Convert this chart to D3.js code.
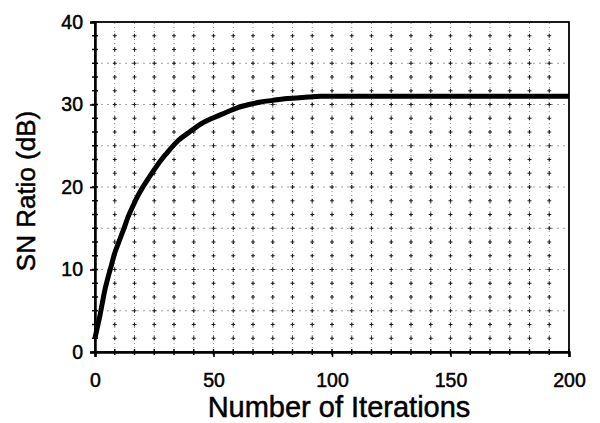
<!DOCTYPE html>
<html>
<head>
<meta charset="utf-8">
<script src="https://cdn.jsdelivr.net/npm/d3@7"></script>
<style>
  body { margin: 0; background: #fff; }
  text { font-family: "Liberation Sans", Arial, sans-serif; fill: #000; }
</style>
</head>
<body>
<script>
// iterations and SN ratio
const iterations = [0, 1, 2, 3, 4, 5, 6, 7, 8, 10, 12, 14, 16, 18, 20, 22, 25, 28, 30, 35, 40, 45, 50, 55, 60, 65, 70, 75, 80, 85, 90, 95, 100, 120, 140, 160, 180, 200];
const snRatio = [1.7, 3.0, 4.3, 5.8, 7.3, 8.5, 9.6, 10.6, 11.7, 13.3, 14.8, 16.4, 17.7, 18.9, 19.9, 20.8, 22.1, 23.3, 24.0, 25.6, 26.7, 27.7, 28.4, 29.0, 29.6, 30.0, 30.3, 30.5, 30.7, 30.8, 30.9, 31.0, 31.0, 31.0, 31.0, 31.0, 31.0, 31.0];
const xTicks = [0, 50, 100, 150, 200];
const yTicks = [0, 10, 20, 30, 40];

const width = 600, height = 423;
const margin = {left: 95, right: 31, top: 22, bottom: 71};

const svg = d3.select('body').append('svg')
  .attr('width', width)
  .attr('height', height);

const x = d3.scaleLinear().domain([0, 200]).range([margin.left, width - margin.right]);
const y = d3.scaleLinear().domain([0, 40]).range([height - margin.bottom, margin.top]);

// minor grid positions, 24 steps each way
const xMinor = d3.range(0, 200.01, 200 / 24);
const yMinor = d3.range(0, 40.01, 40 / 24);

const grid = svg.append('g');
grid.selectAll('line.v').data(xMinor.slice(1, -1)).join('line')
  .attr('x1', d => x(d)).attr('x2', d => x(d))
  .attr('y1', y(0)).attr('y2', y(40))
  .attr('stroke', '#000').attr('stroke-width', 0.8)
  .attr('stroke-dasharray', '1,3').attr('opacity', 0.55);
grid.selectAll('line.h').data([5, 10, 15, 20, 25, 30, 35]).join('line')
  .attr('x1', x(0)).attr('x2', x(200))
  .attr('y1', d => y(d)).attr('y2', d => y(d))
  .attr('stroke', '#000').attr('stroke-width', 0.8)
  .attr('stroke-dasharray', '2,4').attr('opacity', 0.45);

// little "+" marks at grid crossings
const cross = [];
xMinor.slice(1, -1).forEach(a => yMinor.slice(1, -1).forEach(b => cross.push([a, b])));
grid.selectAll('path.c').data(cross).join('path')
  .attr('d', d => `M${x(d[0]) - 2},${y(d[1])}h4M${x(d[0])},${y(d[1]) - 2}v4`)
  .attr('stroke', '#000').attr('stroke-width', 1.2).attr('opacity', 0.85);

// frame
svg.append('rect')
  .attr('x', x(0)).attr('y', y(40))
  .attr('width', x(200) - x(0)).attr('height', y(0) - y(40))
  .attr('fill', 'none').attr('stroke', '#000').attr('stroke-width', 1.8);

// axes
const xAxis = svg.append('g')
  .attr('transform', `translate(0,${y(0)})`)
  .call(d3.axisBottom(x).tickValues(xTicks).tickSize(5).tickPadding(16));
const yAxis = svg.append('g')
  .attr('transform', `translate(${x(0)},0)`)
  .call(d3.axisLeft(y).tickValues(yTicks).tickSize(5).tickPadding(7));
[xAxis, yAxis].forEach(g => {
  g.select('.domain').attr('stroke-width', 2.5);
  g.selectAll('.tick line').attr('stroke-width', 1.6);
  g.selectAll('.tick text')
    .attr('font-size', 19.5)
    .attr('stroke', '#000').attr('stroke-width', 0.5)
    .style('font-family', '"Liberation Sans", Arial, sans-serif');
});

// minor ticks crossing the axes
svg.append('g').selectAll('line').data(xMinor).join('line')
  .attr('x1', d => x(d)).attr('x2', d => x(d))
  .attr('y1', y(0) - 3).attr('y2', y(0) + 3)
  .attr('stroke', '#000').attr('stroke-width', 1.5);
svg.append('g').selectAll('line').data(yMinor).join('line')
  .attr('x1', x(0) - 3).attr('x2', x(0) + 3)
  .attr('y1', d => y(d)).attr('y2', d => y(d))
  .attr('stroke', '#000').attr('stroke-width', 1.5);

// curve
const line = d3.line()
  .x((d, i) => x(iterations[i]))
  .y(d => y(d))
  .curve(d3.curveMonotoneX);
svg.append('path')
  .datum(snRatio)
  .attr('d', line)
  .attr('fill', 'none')
  .attr('stroke', '#000')
  .attr('stroke-width', 5)
  .attr('stroke-linejoin', 'round');

// axis titles
svg.append('text')
  .attr('x', 339).attr('y', 417)
  .attr('text-anchor', 'middle').attr('font-size', 29)
  .attr('stroke', '#000').attr('stroke-width', 0.5)
  .text('Number of Iterations');
svg.append('text')
  .attr('transform', 'translate(35,191) rotate(-90)')
  .attr('text-anchor', 'middle').attr('font-size', 26)
  .attr('stroke', '#000').attr('stroke-width', 0.5)
  .text('SN Ratio (dB)');
</script>
</body>
</html>
